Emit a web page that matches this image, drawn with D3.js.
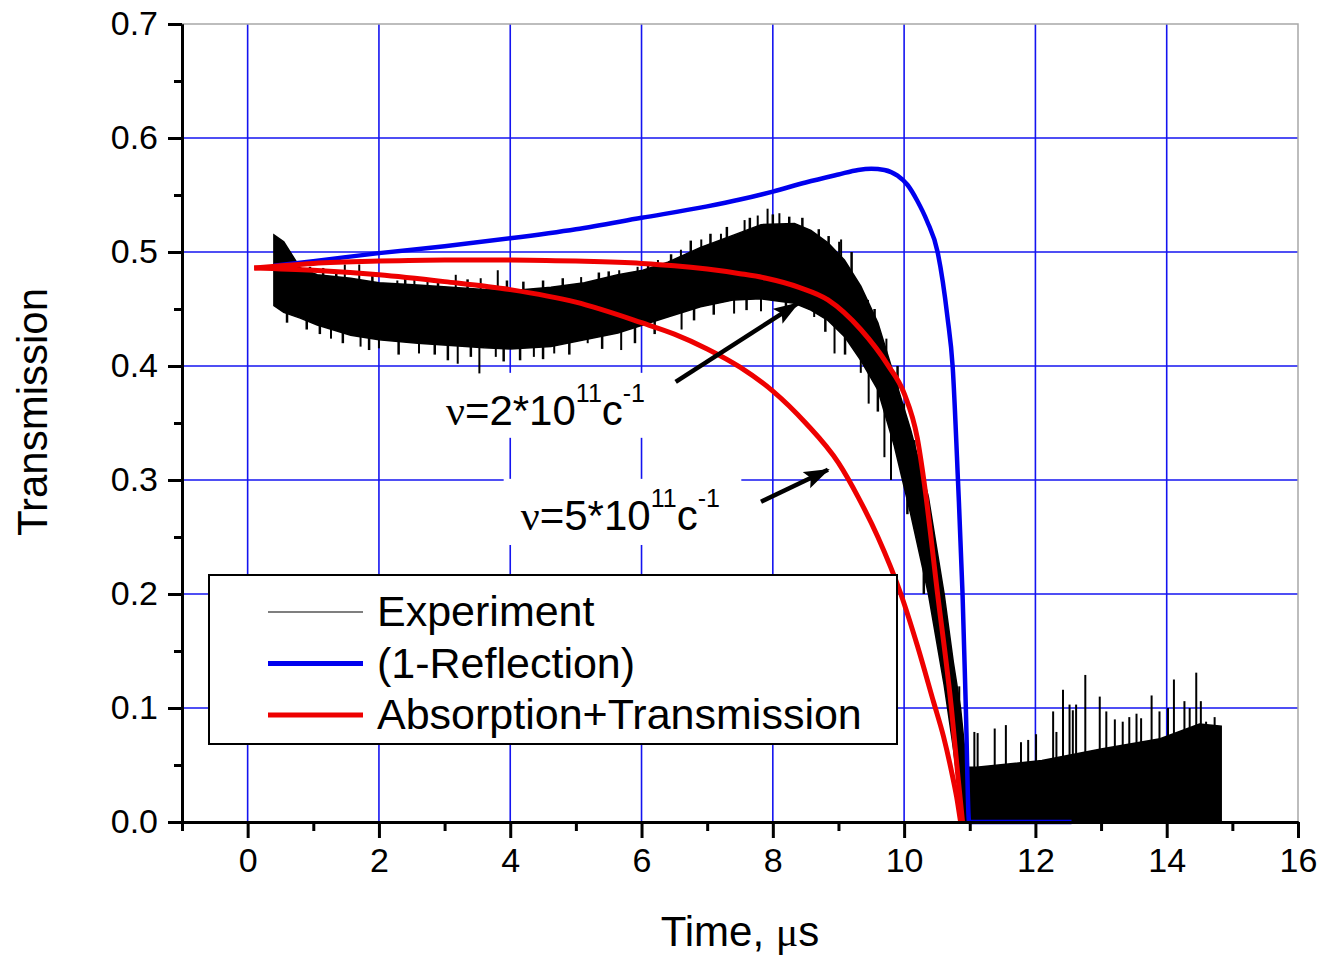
<!DOCTYPE html>
<html>
<head>
<meta charset="utf-8">
<script src="https://cdn.jsdelivr.net/npm/d3@7"></script>
<style>
  body { margin: 0; background: #fff; }
  text { font-family: "Liberation Sans", Arial, sans-serif; fill: #000; }
</style>
</head>
<body>
<script>
/* globals d3 */
// axis ticks
const xMajor = [0, 2, 4, 6, 8, 10, 12, 14, 16];
const xMinor = [-1, 1, 3, 5, 7, 9, 11, 13, 15];
const yMajor = [0, 0.1, 0.2, 0.3, 0.4, 0.5, 0.6, 0.7];
const yMinor = [0.05, 0.15, 0.25, 0.35, 0.45, 0.55, 0.65];
const xGrid = [0, 2, 4, 6, 8, 10, 12, 14];
const yGrid = [0.1, 0.2, 0.3, 0.4, 0.5, 0.6];

// (1-Reflection)
const reflection = [
  [0.4, 0.488], [1, 0.492], [2, 0.499], [3, 0.505], [4, 0.512], [5, 0.52],
  [6, 0.53], [7, 0.54], [7.5, 0.546], [8, 0.553], [8.5, 0.561], [9, 0.568],
  [9.3, 0.572], [9.5, 0.573], [9.7, 0.572], [9.9, 0.567], [10.05, 0.559],
  [10.2, 0.545], [10.35, 0.527], [10.51, 0.5], [10.66, 0.443], [10.74, 0.399],
  [10.82, 0.3], [10.89, 0.2], [10.94, 0.1], [10.99, 0], [12.55, 0],
];

// Absorption+Transmission, nu = 2e11
const absorb2 = [
  [0.1, 0.486], [1, 0.49], [2, 0.492], [3, 0.493], [4, 0.493], [5, 0.492],
  [6, 0.49], [6.5, 0.488], [7, 0.485], [7.5, 0.481], [7.9, 0.477], [8.4, 0.469],
  [8.84, 0.458], [9.34, 0.432], [9.75, 0.401], [10, 0.376], [10.2, 0.337],
  [10.3, 0.3], [10.51, 0.2], [10.72, 0.1], [10.82, 0.04], [10.89, 0],
];

// Absorption+Transmission, nu = 5e11
const absorb5 = [
  [0.1, 0.486], [1, 0.484], [2, 0.48], [3, 0.474], [4, 0.467], [5, 0.456],
  [6, 0.438], [6.5, 0.428], [7, 0.415], [7.5, 0.399], [8, 0.378], [8.5, 0.35],
  [9, 0.315], [9.3, 0.285], [9.6, 0.25], [9.95, 0.2], [10.2, 0.155],
  [10.45, 0.105], [10.6, 0.075], [10.72, 0.045], [10.8, 0.022], [10.86, 0],
];

// Experiment: band of the noisy trace (low / high edge)
const expTime = [0.4, 0.55, 0.8, 1.06, 1.57, 2, 2.59, 3.1, 3.6, 4, 4.62, 5.13,
  5.64, 6.02, 6.4, 6.9, 7.41, 7.82, 8.33, 8.58, 8.84, 9.09, 9.34, 9.6, 9.85,
  10.1, 10.37, 10.61, 10.75, 10.86, 10.93, 10.98, 11.1, 12.1, 13, 13.9, 14.5, 14.83];
const expLow = [0.453, 0.447, 0.442, 0.436, 0.427, 0.423, 0.42, 0.418, 0.416,
  0.415, 0.417, 0.423, 0.429, 0.436, 0.443, 0.452, 0.458, 0.459, 0.455, 0.449,
  0.44, 0.426, 0.405, 0.379, 0.33, 0.27, 0.2, 0.12, 0.065, 0.015, 0, 0, 0, 0,
  0, 0, 0, 0];
const expHigh = [0.515, 0.509, 0.486, 0.48, 0.477, 0.473, 0.471, 0.469, 0.467,
  0.466, 0.469, 0.473, 0.48, 0.484, 0.491, 0.504, 0.515, 0.524, 0.525, 0.519,
  0.508, 0.493, 0.47, 0.438, 0.391, 0.344, 0.285, 0.2, 0.14, 0.1, 0.06, 0.048,
  0.048, 0.054, 0.064, 0.073, 0.086, 0.084];

// Experiment: single spikes sticking out of the band
const spikeTime = [1.27, 1.48, 1.7, 1.72, 2, 2.13, 2.28, 2.54, 2.61, 2.74, 3.17,
  3.2, 3.53, 3.55, 3.78, 3.81, 4.36, 4.67, 5.08, 5.18, 5.66, 5.69, 5.94, 6.25,
  6.6, 6.61, 6.91, 7.21, 7.41, 7.57, 7.77, 7.82, 7.92, 8.1, 8.63, 8.94, 9.01,
  9.04, 9.34, 9.45, 9.46, 9.7, 9.73, 9.8, 10, 10.16, 10.84,
  11.07, 11.12, 11.38, 11.55, 11.78, 11.89, 12.01, 12.27, 12.32, 12.42, 12.52,
  12.57, 12.62, 12.76, 12.98, 13.08, 13.21, 13.33, 13.43, 13.54, 13.61, 13.77,
  13.89, 14.02, 14.11, 14.27, 14.35, 14.45, 14.52, 14.6, 14.73];
const spikeValue = [0.424, 0.489, 0.489, 0.417, 0.4155, 0.4725, 0.475, 0.477,
  0.411, 0.474, 0.48, 0.402, 0.3935, 0.477, 0.408, 0.484, 0.408, 0.411, 0.478,
  0.42, 0.484, 0.414, 0.487, 0.493, 0.502, 0.432, 0.511, 0.516, 0.446, 0.528,
  0.532, 0.448, 0.538, 0.534, 0.443, 0.411, 0.509, 0.511, 0.394, 0.458, 0.367,
  0.32, 0.424, 0.3, 0.367, 0.335, 0.119,
  0.079, 0.078, 0.082, 0.085, 0.07, 0.072, 0.077, 0.097, 0.079, 0.116, 0.103,
  0.098, 0.103, 0.129, 0.11, 0.097, 0.09, 0.088, 0.092, 0.095, 0.091, 0.111,
  0.097, 0.1, 0.125, 0.106, 0.1, 0.131, 0.106, 0.088, 0.092];

// Experiment: the finer noise on the band edges
const fineTime = [0.95, 1.15, 1.35, 1.9, 2.4, 2.9, 3.35, 3.95, 4.2, 4.5, 4.8,
  5.35, 5.5, 6.1, 6.45, 6.75, 7.05, 7.3, 7.65, 8, 8.25, 8.45, 8.7, 8.85, 9.2,
  9.55, 9.9,
  0.6, 0.9, 1.1, 1.45, 1.85, 2.3, 2.85, 3.05, 3.4, 3.9, 4.15, 4.5, 4.9, 5.4,
  5.9, 6.2, 6.8, 7.1, 7.6, 8.2, 8.8, 9.1, 9.6, 10.05, 10.3];
const fineValue = [0.487, 0.486, 0.484, 0.481, 0.478, 0.476, 0.476, 0.475,
  0.474, 0.475, 0.477, 0.482, 0.483, 0.49, 0.498, 0.51, 0.516, 0.522, 0.53,
  0.533, 0.531, 0.53, 0.52, 0.514, 0.5, 0.45, 0.4,
  0.438, 0.432, 0.428, 0.42, 0.414, 0.41, 0.41, 0.405, 0.408, 0.404, 0.405,
  0.406, 0.41, 0.415, 0.42, 0.428, 0.44, 0.445, 0.449, 0.445, 0.43, 0.41,
  0.36, 0.27, 0.2];

const legendNames = ["Experiment", "(1-Reflection)", "Absorption+Transmission"];
const legendColors = ["#000", "#0000ee", "#ee0000"];

// annotation labels: [t, v] of text start, white box, arrow start / tip
const labels = [
  { mant: "2", at: [3.02, 0.348], box: [2.91, 6.3, 0.394, 0.337], from: [6.52, 0.386], to: [8.38, 0.455] },
  { mant: "5", at: [4.16, 0.256], box: [3.9, 7.52, 0.301, 0.243], from: [7.82, 0.281], to: [8.84, 0.309] },
];

const width = 1324;
const height = 958;
const padding = { top: 24, right: 26, bottom: 136, left: 182 };

const x = d3.scaleLinear().domain([-1, 16]).range([padding.left, width - padding.right]);
const y = d3.scaleLinear().domain([0, 0.7]).range([height - padding.bottom, padding.top]);

const svg = d3
  .select("body")
  .append("svg")
  .attr("width", width)
  .attr("height", height);

svg.append("rect").attr("width", width).attr("height", height).attr("fill", "#fff");

// grid
svg
  .append("g")
  .selectAll("line")
  .data(xGrid)
  .enter()
  .append("line")
  .attr("x1", (d) => x(d))
  .attr("x2", (d) => x(d))
  .attr("y1", y(0))
  .attr("y2", y(0.7))
  .attr("stroke", "#1414f0")
  .attr("stroke-width", 1.6);

svg
  .append("g")
  .selectAll("line")
  .data(yGrid)
  .enter()
  .append("line")
  .attr("x1", x(-1))
  .attr("x2", x(16))
  .attr("y1", (d) => y(d))
  .attr("y2", (d) => y(d))
  .attr("stroke", "#1414f0")
  .attr("stroke-width", 1.6);

// top and right frame
svg
  .append("path")
  .attr("d", `M${x(-1)},${y(0.7)}H${x(16)}V${y(0)}`)
  .attr("fill", "none")
  .attr("stroke", "#a8a8a8")
  .attr("stroke-width", 1.5);

// white boxes behind the labels
svg
  .append("g")
  .selectAll("rect")
  .data(labels)
  .enter()
  .append("rect")
  .attr("x", (d) => x(d.box[0]))
  .attr("y", (d) => y(d.box[2]))
  .attr("width", (d) => x(d.box[1]) - x(d.box[0]))
  .attr("height", (d) => y(d.box[3]) - y(d.box[2]))
  .attr("fill", "#fff");

// experiment band
const expData = expTime.map((t, i) => [t, expLow[i], expHigh[i]]);
const band = d3
  .area()
  .x((d) => x(d[0]))
  .y0((d) => y(d[1]))
  .y1((d) => y(d[2]));

svg
  .append("path")
  .datum(expData)
  .attr("d", band)
  .attr("fill", "#000")
  .attr("stroke", "#000")
  .attr("stroke-width", 1.5);

// spikes go from the band middle (nearest band sample) out to their value
const bis = d3.bisector((d) => d).center;
const bandMid = (t) => {
  const k = bis(expTime, t);
  return (expLow[k] + expHigh[k]) / 2;
};

function drawSpikes(times, values, w) {
  svg
    .append("g")
    .selectAll("line")
    .data(times)
    .enter()
    .append("line")
    .attr("x1", (d) => x(d))
    .attr("x2", (d) => x(d))
    .attr("y1", (d, i) => y(values[i]))
    .attr("y2", (d) => y(bandMid(d)))
    .attr("stroke", "#000")
    .attr("stroke-width", w);
}
drawSpikes(fineTime, fineValue, 2.5);
drawSpikes(spikeTime, spikeValue, 2);

// model curves
const line = d3
  .line()
  .curve(d3.curveMonotoneX)
  .x((d) => x(d[0]))
  .y((d) => y(d[1]));

svg
  .append("path")
  .datum(reflection)
  .attr("d", line)
  .attr("fill", "none")
  .attr("stroke", legendColors[1])
  .attr("stroke-width", 4.5)
  .attr("stroke-linejoin", "round");

[absorb2, absorb5].forEach((s) => {
  svg
    .append("path")
    .datum(s)
    .attr("d", line)
    .attr("fill", "none")
    .attr("stroke", legendColors[2])
    .attr("stroke-width", 5)
    .attr("stroke-linejoin", "round");
});

// axes
const xAxisMajor = d3.axisBottom(x).tickValues(xMajor).tickSize(16).tickSizeOuter(0).tickPadding(10).tickFormat(d3.format("d"));
const xAxisMinor = d3.axisBottom(x).tickValues(xMinor).tickSize(9).tickSizeOuter(0).tickFormat("");
const yAxisMajor = d3.axisLeft(y).tickValues(yMajor).tickSize(14).tickSizeOuter(0).tickPadding(10).tickFormat(d3.format(".1f"));
const yAxisMinor = d3.axisLeft(y).tickValues(yMinor).tickSize(8).tickSizeOuter(0).tickFormat("");

[xAxisMajor, xAxisMinor].forEach((ax) => {
  svg
    .append("g")
    .attr("transform", `translate(0,${y(0)})`)
    .call(ax)
    .call((g) => g.selectAll("line, path").attr("stroke", "#000").attr("stroke-width", 3))
    .call((g) => g.selectAll("text").attr("font-size", "34px").attr("font-family", null));
});

[yAxisMajor, yAxisMinor].forEach((ax) => {
  svg
    .append("g")
    .attr("transform", `translate(${x(-1)},0)`)
    .call(ax)
    .call((g) => g.selectAll("line, path").attr("stroke", "#000").attr("stroke-width", 3))
    .call((g) => g.selectAll("text").attr("font-size", "34px").attr("font-family", null));
});

// axis titles
svg
  .append("text")
  .attr("x", 740)
  .attr("y", 946)
  .attr("text-anchor", "middle")
  .attr("font-size", "42px")
  .text("Time, ")
  .append("tspan")
  .attr("font-family", "Liberation Serif")
  .text("\u03bc")
  .append("tspan")
  .attr("font-family", "Liberation Sans")
  .text("s");

svg
  .append("text")
  .attr("transform", "translate(47,412) rotate(-90)")
  .attr("text-anchor", "middle")
  .attr("font-size", "42px")
  .text("Transmission");

// legend
const legend = svg.append("g");
legend
  .append("rect")
  .attr("x", 209)
  .attr("y", 575)
  .attr("width", 688)
  .attr("height", 169)
  .attr("fill", "#fff")
  .attr("stroke", "#000")
  .attr("stroke-width", 2);

legendNames.forEach((name, i) => {
  const ly = 612 + i * 51.5;
  legend
    .append("line")
    .attr("x1", 268)
    .attr("x2", 363)
    .attr("y1", ly)
    .attr("y2", ly)
    .attr("stroke", legendColors[i])
    .attr("stroke-width", i === 0 ? 1.2 : 5);
  legend
    .append("text")
    .attr("x", 377)
    .attr("y", ly + 14)
    .attr("font-size", "43px")
    .text(name);
});

// annotations
const defs = svg.append("defs");
defs
  .append("marker")
  .attr("id", "head")
  .attr("markerUnits", "userSpaceOnUse")
  .attr("markerWidth", 30)
  .attr("markerHeight", 20)
  .attr("refX", 24)
  .attr("refY", 9)
  .attr("orient", "auto")
  .append("path")
  .attr("d", "M0,0L26,9L0,18L5,9Z")
  .attr("fill", "#000");

labels.forEach((d) => {
  svg
    .append("line")
    .attr("x1", x(d.from[0]))
    .attr("y1", y(d.from[1]))
    .attr("x2", x(d.to[0]))
    .attr("y2", y(d.to[1]))
    .attr("stroke", "#000")
    .attr("stroke-width", 4.5)
    .attr("marker-end", "url(#head)");

  const t = svg
    .append("text")
    .attr("x", x(d.at[0]))
    .attr("y", y(d.at[1]))
    .attr("font-size", "42px");
  t.append("tspan").attr("font-family", "Liberation Serif").text("\u03bd");
  t.append("tspan").text(`=${d.mant}*10`);
  t.append("tspan").attr("font-size", "25px").attr("dy", -23).text("11");
  t.append("tspan").attr("dy", 23).text("c");
  t.append("tspan").attr("font-size", "25px").attr("dy", -23).text("-1");
});
</script>
</body>
</html>
